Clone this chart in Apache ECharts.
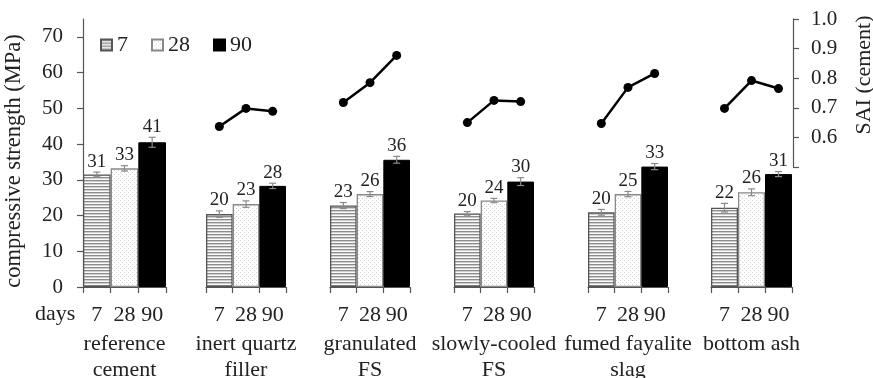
<!DOCTYPE html>
<html>
<head>
<meta charset="utf-8">
<script src="https://cdn.jsdelivr.net/npm/echarts@6/dist/echarts.min.js"></script>
<style>
html,body{margin:0;padding:0;background:#fff;}
#chart{width:873px;height:378px;}
</style>
</head>
<body>
<div id="chart"></div>
<script>
// ---- data ----
const groups = ['reference\ncement', 'inert quartz\nfiller', 'granulated\nFS', 'slowly-cooled\nFS', 'fumed fayalite\nslag', 'bottom ash'];
const ages = ['7', '28', '90'];
const strength7  = [31.5, 20.4, 22.8, 20.6, 20.9, 22.2];
const strength28 = [33.2, 23.2, 26.0, 24.2, 26.0, 26.5];
const strength90 = [40.5, 28.3, 35.6, 29.5, 33.7, 31.6];
const err7  = [0.65, 0.9, 0.85, 0.5, 0.8, 1.2];
const err28 = [0.75, 0.9, 0.7, 0.6, 0.75, 0.95];
const err90 = [1.4, 0.75, 0.95, 1.1, 0.85, 0.7];
const label7  = ['31', '20', '23', '20', '20', '22'];
const label28 = ['33', '23', '26', '24', '25', '26'];
const label90 = ['41', '28', '36', '30', '33', '31'];
const sai7  = [null, 0.637, 0.718, 0.650, 0.647, 0.698];
const sai28 = [null, 0.698, 0.785, 0.725, 0.769, 0.792];
const sai90 = [null, 0.688, 0.877, 0.721, 0.816, 0.765];
const leftTicks = [0, 10, 20, 30, 40, 50, 60, 70];

// ---- layout ----
const groupLeft = [83, 206, 330, 454, 588, 711];
const groupWidth = [83, 80, 80, 80, 80, 81];
const gridTop = 19, gridBottomY = 287;
const gridH = gridBottomY - gridTop;
const strengthMax = 75;
const saiTopY = 19, saiHalfY = 167; // pixel of 1.0 and 0.5 on right axis
const saiPerPx = 0.5 / (saiHalfY - saiTopY);
const saiMin = 1 - gridH * saiPerPx;
const FONT = '"Liberation Serif", "Times New Roman", serif';

function makePattern(kind) {
  const c = document.createElement('canvas');
  const ctx = c.getContext('2d');
  if (kind === 'stripe') {
    c.width = 6; c.height = 3;
    ctx.fillStyle = '#fafafa'; ctx.fillRect(0, 0, 6, 3);
    ctx.fillStyle = '#8c8c8c'; ctx.fillRect(0, 0, 6, 1);
    ctx.fillStyle = '#cfcfcf'; ctx.fillRect(0, 1, 6, 1);
  } else {
    c.width = 4; c.height = 4;
    ctx.fillStyle = '#ffffff'; ctx.fillRect(0, 0, 4, 4);
    ctx.fillStyle = '#d0d0d0'; ctx.fillRect(0, 0, 1, 1); ctx.fillRect(2, 2, 1, 1);
  }
  return { image: c, repeat: 'repeat' };
}
const stripe = makePattern('stripe');
const dots = makePattern('dots');

const barStyles = [
  { color: stripe, borderColor: '#555', borderWidth: 1.3 },
  { color: dots, borderColor: '#888', borderWidth: 1.3 },
  { color: '#000', borderColor: '#000', borderWidth: 1 }
];
const strengths = [strength7, strength28, strength90];
const errs = [err7, err28, err90];
const labels = [label7, label28, label90];
const sais = [sai7, sai28, sai90];

const grid = [], xAxis = [], yAxis = [], series = [];
groups.forEach((g, k) => {
  grid.push({ left: groupLeft[k], width: groupWidth[k], top: gridTop, height: gridH, containLabel: false, outerBoundsMode: 'none' });
  xAxis.push({
    type: 'category', gridIndex: k, data: ages,
    axisLine: { show: true, lineStyle: { color: '#555', width: 1.2 } },
    axisTick: { show: true, length: 6, lineStyle: { color: '#555', width: 1.2 } },
    axisLabel: { fontFamily: FONT, fontSize: 22, color: '#222', margin: 17, interval: 0 },
    name: g, nameLocation: 'middle', nameGap: 42,
    nameTextStyle: { fontFamily: FONT, fontSize: 22, color: '#222', lineHeight: 26 }
  });
  // strength axis
  yAxis.push({
    type: 'value', gridIndex: k, min: 0, max: strengthMax,
    show: k === 0,
    splitLine: { show: false },
    axisLine: { show: true, lineStyle: { color: '#555', width: 1.2 } },
    axisTick: { show: true, length: 6, customValues: leftTicks, lineStyle: { color: '#555', width: 1.2 } },
    axisLabel: { customValues: leftTicks, fontFamily: FONT, fontSize: 21, color: '#222', margin: 20 },
    name: k === 0 ? 'compressive strength (MPa)' : '',
    nameLocation: 'middle', nameGap: 57,
    nameTextStyle: { fontFamily: FONT, fontSize: 22.5, color: '#222', padding: [0, 16, 0, 0] }
  });
  // hidden SAI axis for the line
  yAxis.push({ type: 'value', gridIndex: k, min: saiMin, max: 1, show: false, splitLine: { show: false } });

  ages.forEach((a, j) => {
    const data = ages.map((_, i) => i === j ? strengths[j][k] : '-');
    series.push({
      type: 'bar', name: a, xAxisIndex: k, yAxisIndex: 2 * k,
      stack: 'g' + k, barWidth: '100%', data,
      itemStyle: barStyles[j], z: 2
    });
  });
  // error bars and value labels
  series.push({
    type: 'custom', name: 'err' + k, xAxisIndex: k, yAxisIndex: 2 * k, z: 4,
    data: ages.map((_, j) => [j, strengths[j][k], errs[j][k]]),
    renderItem: function (params, api) {
      const x = api.value(0), v = api.value(1), e = api.value(2);
      const t = api.coord([x, v + e]);
      const b = api.coord([x, v - e]);
      const cap = 3.5;
      const st = { stroke: '#8a8a8a', lineWidth: 1.2 };
      return {
        type: 'group', children: [
          { type: 'line', shape: { x1: t[0], y1: t[1], x2: b[0], y2: b[1] }, style: st },
          { type: 'line', shape: { x1: t[0] - cap, y1: t[1], x2: t[0] + cap, y2: t[1] }, style: st },
          { type: 'line', shape: { x1: b[0] - cap, y1: b[1], x2: b[0] + cap, y2: b[1] }, style: st },
          { type: 'text', x: t[0], y: t[1] - 1, style: { text: labels[params.dataIndex][k], align: 'center', verticalAlign: 'bottom', fontFamily: 'Liberation Serif', fontSize: 19, fill: '#222' } }
        ]
      };
    }
  });
  if (sai7[k] !== null) {
    series.push({
      type: 'line', name: 'SAI' + k, xAxisIndex: k, yAxisIndex: 2 * k + 1,
      data: sais.map(s => s[k]), symbol: 'circle', symbolSize: 9,
      lineStyle: { color: '#000', width: 2.5 }, itemStyle: { color: '#000' }, z: 5
    });
  }
});

// right SAI display axis
const rg = grid.length;
grid.push({ left: groupLeft[5], width: groupWidth[5] + 1, top: saiTopY, height: saiHalfY - saiTopY, outerBoundsMode: 'none' });
xAxis.push({ type: 'category', gridIndex: rg, data: ages, show: false });
yAxis.push({
  type: 'value', gridIndex: rg, position: 'right', min: 0.5, max: 1, interval: 0.1,
  splitLine: { show: false },
  axisLine: { show: true, lineStyle: { color: '#555', width: 1.2 } },
  axisTick: { show: true, length: 6, lineStyle: { color: '#555', width: 1.2 } },
  axisLabel: { fontFamily: FONT, fontSize: 21, color: '#222', margin: 18,
    formatter: v => v < 0.55 ? '' : v.toFixed(1) },
  name: 'SAI (cement)', nameLocation: 'middle', nameGap: 60,
  nameTextStyle: { fontFamily: FONT, fontSize: 22, color: '#222', padding: [0, 0, 0, 36] }
});

const chart = echarts.init(document.getElementById('chart'), null, { renderer: 'canvas' });
chart.setOption({
  animation: false,
  backgroundColor: '#fff',
  grid, xAxis, yAxis, series,
  legend: {
    data: ages, left: 95, top: 29, itemWidth: 11, itemHeight: 11, itemGap: 23,
    icon: 'rect',
    textStyle: { fontFamily: FONT, fontSize: 22, color: '#222' }
  },
  graphic: [{
    type: 'text', left: 35, top: 303,
    style: { text: 'days', fontFamily: 'Liberation Serif', fontSize: 22, fill: '#222' }
  }]
});
</script>
</body>
</html>
